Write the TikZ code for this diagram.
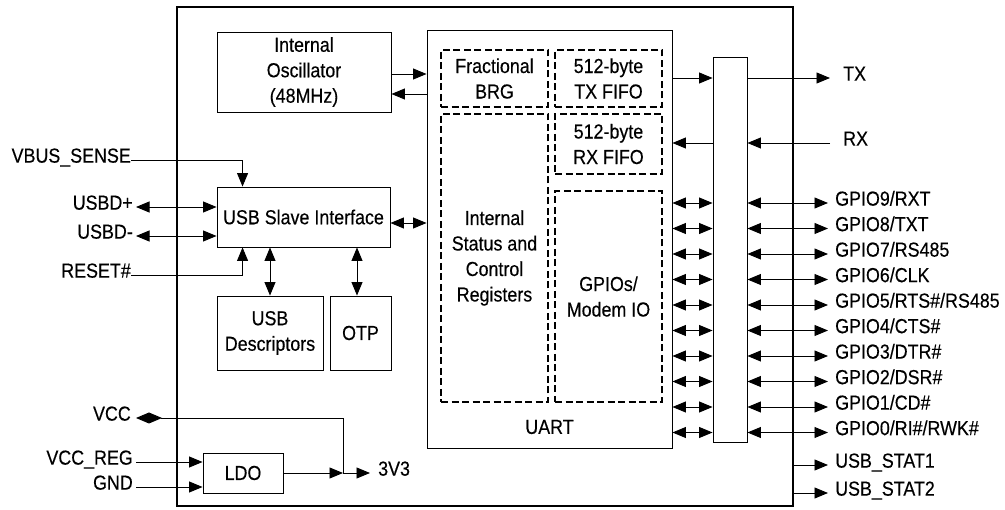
\documentclass[tikz,border=0pt]{standalone}
\usepackage{fontspec}
\setmainfont{Liberation Sans}[FakeStretch=0.88,FakeBold=0.3]
\usetikzlibrary{arrows.meta,calc}
\begin{document}
\begin{tikzpicture}[x=1pt,y=-1pt,
  every node/.style={font=\fontsize{20.3}{25.5}\selectfont},
  blk/.style={draw, line width=0.9pt, inner sep=0pt, align=center},
  dblk/.style={draw, line width=2pt, dash pattern=on 7pt off 3.5pt, inner sep=0pt, align=center, minimum width=107pt},
  lbl/.style={inner sep=0pt},
  sig/.style={line width=0.9pt},
  Tr/.tip={Triangle[length=13.5pt,width=11pt]}]
\useasboundingbox (0,0) rectangle (1005,510);
% blocks
\node[blk, line width=1.6pt, minimum width=616pt, minimum height=499pt] (chip) at (485,256.5) {};
\node[blk, minimum width=174pt, minimum height=80pt] (osc) at (304,72) {Internal\\Oscillator\\(48MHz)};
\node[blk, minimum width=173pt, minimum height=60pt] (usb) at (303.5,217) {USB Slave Interface};
\node[blk, minimum width=106pt, minimum height=74pt] (desc) at (270,333) {USB\\Descriptors};
\node[blk, minimum width=61pt, minimum height=74pt] (otp) at (360.5,333) {OTP};
\node[blk, minimum width=80pt, minimum height=40pt] (ldo) at (243,473) {LDO};
\node[blk, minimum width=245pt, minimum height=418pt] (uart) at (549.5,239) {};
\node (uartl) at (549.5,427) {UART};
\node[dblk, minimum height=57pt] (brg) at (494.5,78.5) {Fractional\\BRG};
\node[dblk, minimum height=57pt] (txf) at (608.5,78.5) {512-byte\\TX FIFO};
\node[dblk, minimum height=60pt] (rxf) at (608.5,144) {512-byte\\RX FIFO};
\node[dblk, minimum height=288pt] (isr) at (494.5,258) {Internal\\Status and\\Control\\Registers};
\node[dblk, minimum height=211pt] (gpm) at (608.5,296.5) {GPIOs/\\Modem IO};
\node[blk, minimum width=34pt, minimum height=385pt] (bar) at (730,249.5) {};
% left labels
\node[lbl, anchor=mid east] (vbus) at (131,160) {VBUS\_SENSE};
\node[lbl, anchor=mid east] (udp) at (133,207) {USBD+};
\node[lbl, anchor=mid east] (udm) at (133,236) {USBD-};
\node[lbl, anchor=mid east] (rst) at (131,275) {RESET\#};
\node[lbl, anchor=mid east] (vcc) at (131,418) {VCC};
\node[lbl, anchor=mid east] (vreg) at (133,462) {VCC\_REG};
\node[lbl, anchor=mid east] (gnd) at (133,487) {GND};
% right labels
\node[lbl, anchor=mid west] (tx) at (843,78) {TX};
\node[lbl, anchor=mid west] (rx) at (843,143) {RX};
\node[lbl, anchor=mid west] (s1) at (835,465) {USB\_STAT1};
\node[lbl, anchor=mid west] (s2) at (835,493) {USB\_STAT2};
\node[lbl, anchor=mid west] (v33) at (378,473) {3V3};
% left connectors
\draw[sig,-Tr] (vbus.mid east) -| ($(usb.north west)+(26,0)$);
\draw[sig,-Tr] (rst.mid east) -| ($(usb.south west)+(26,0)$);
\draw[sig,Tr-Tr] ([xshift=3pt]udp.mid east) -- (udp.mid east -| usb.west);
\draw[sig,Tr-Tr] ([xshift=3pt]udm.mid east) -- (udm.mid east -| usb.west);
\draw[sig,Tr-Tr] (desc.north) -- (desc.north |- usb.south);
\coordinate (otpa) at ($(otp.north)+(-3.5,0)$);
\draw[sig,Tr-Tr] (otpa) -- (otpa |- usb.south);
\coordinate (o1) at ($(osc.east)+(0,2)$);
\coordinate (o2) at ($(osc.east)+(0,22)$);
\draw[sig,-Tr] (o1) -- (o1 -| uart.west);
\draw[sig,-Tr] (o2 -| uart.west) -- (o2);
\coordinate (u1) at ($(usb.east)+(0,6)$);
\draw[sig,Tr-Tr] (u1) -- (u1 -| uart.west);
% power
\coordinate (j) at (343,473);
\draw[sig,{Diamond[length=26pt,width=11pt]}-] ([xshift=5pt]vcc.mid east) -| (j);
\draw[sig,-Tr] (ldo.east) -- (j);
\draw[sig,-Tr] (j) -- ([xshift=-8pt]v33.mid west);
\draw[sig,-Tr] ([xshift=3pt]vreg.mid east) -- (vreg.mid east -| ldo.west);
\draw[sig,-Tr] ([xshift=3pt]gnd.mid east) -- (gnd.mid east -| ldo.west);
% TX / RX
\draw[sig,-Tr] (uart.east |- tx.mid west) -- (bar.west |- tx.mid west);
\draw[sig,-Tr] (bar.east |- tx.mid west) -- ([xshift=-13pt]tx.mid west);
\draw[sig,-Tr] ([xshift=-13pt]rx.mid west) -- (bar.east |- rx.mid west);
\draw[sig,-Tr] (bar.west |- rx.mid west) -- (uart.east |- rx.mid west);
% GPIOs
\foreach \t [count=\i from 0] in {{GPIO9/RXT},{GPIO8/TXT},{GPIO7/RS485},{GPIO6/CLK},{GPIO5/RTS\#/RS485},{GPIO4/CTS\#},{GPIO3/DTR\#},{GPIO2/DSR\#},{GPIO1/CD\#},{GPIO0/RI\#/RWK\#}}{
  \node[lbl, anchor=mid west] (g\i) at (835,{203+25.5*\i}) {\t};
  \draw[sig,Tr-Tr] (bar.east |- g\i.mid west) -- ([xshift=-7pt]g\i.mid west);
  \draw[sig,Tr-Tr] (uart.east |- g\i.mid west) -- (bar.west |- g\i.mid west);
}
% status
\draw[sig,-Tr] (chip.east |- s1.mid west) -- ([xshift=-7pt]s1.mid west);
\draw[sig,-Tr] (chip.east |- s2.mid west) -- ([xshift=-7pt]s2.mid west);
\end{tikzpicture}
\end{document}
